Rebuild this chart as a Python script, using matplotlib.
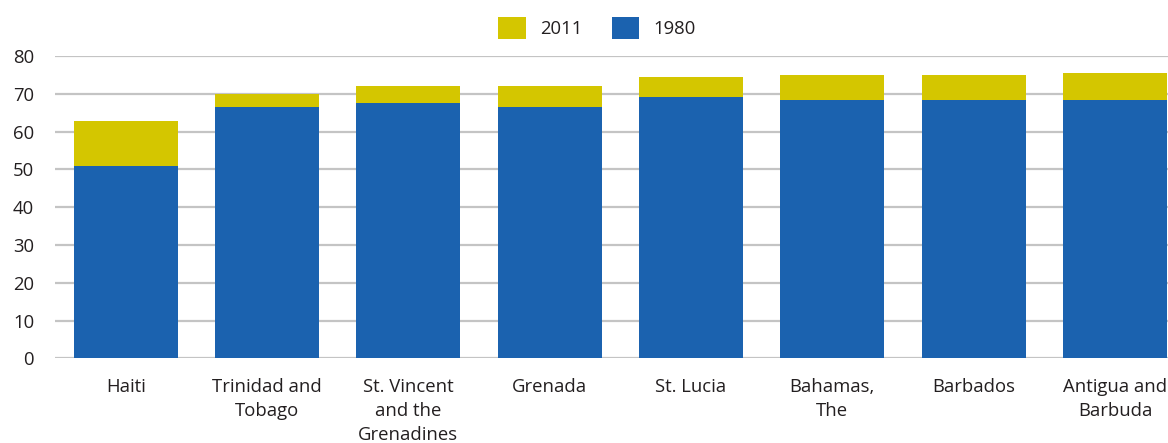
import matplotlib
matplotlib.use("Agg")
import matplotlib.pyplot as plt
import numpy as np

countries = ["Haiti", "Trinidad and\nTobago", "St. Vincent\nand the\nGrenadines", "Grenada",
             "St. Lucia", "Bahamas,\nThe", "Barbados", "Antigua and\nBarbuda"]
values_2011 = [62.8, 69.9, 72.0, 72.0, 74.4, 75.0, 75.0, 75.5]
values_1980 = [50.8, 66.5, 67.6, 66.5, 69.1, 68.3, 68.3, 68.3]
yticks = [0, 10, 20, 30, 40, 50, 60, 70, 80]

plt.rcParams['font.family'] = ['Open Sans', 'DejaVu Sans']
FS = 13.3
TXT = '#231f20'

fig = plt.figure(figsize=(11.68, 4.43), dpi=100)
ax = fig.add_axes([55/1168, 1-358.3/443, 1-55/1168, (358.3-56)/443])

x = np.arange(len(countries))
w = 0.735
b1 = ax.bar(x, values_2011, width=w, color='#d4c600', label='2011', zorder=2)
b2 = ax.bar(x, values_1980, width=w, color='#1b62af', label='1980', zorder=3)

ax.set_xlim(-0.5, 7.375)
ax.set_ylim(0, 80)
ax.set_yticks(yticks)
ax.set_yticklabels([str(v) for v in yticks])
ax.set_xticks(x)
ax.set_xticklabels(countries, linespacing=1.42)
ax.tick_params(axis='both', length=0, labelsize=FS, colors=TXT)
ax.tick_params(axis='y', pad=15)
ax.tick_params(axis='x', pad=14)
for s in ax.spines.values():
    s.set_visible(False)
ax.yaxis.grid(True, color='#c4c4c4', linewidth=1.6, zorder=1)
ax.set_axisbelow(True)

fig.legend(handles=[b1, b2], labels=['2011', '1980'], loc='center',
           bbox_to_anchor=(597/1168, 1-28/443), ncol=2, frameon=False,
           fontsize=FS, handlelength=1.5, handleheight=1.5,
           handletextpad=0.75, columnspacing=1.6, labelcolor=TXT)

fig.savefig('out.png', dpi=100)
